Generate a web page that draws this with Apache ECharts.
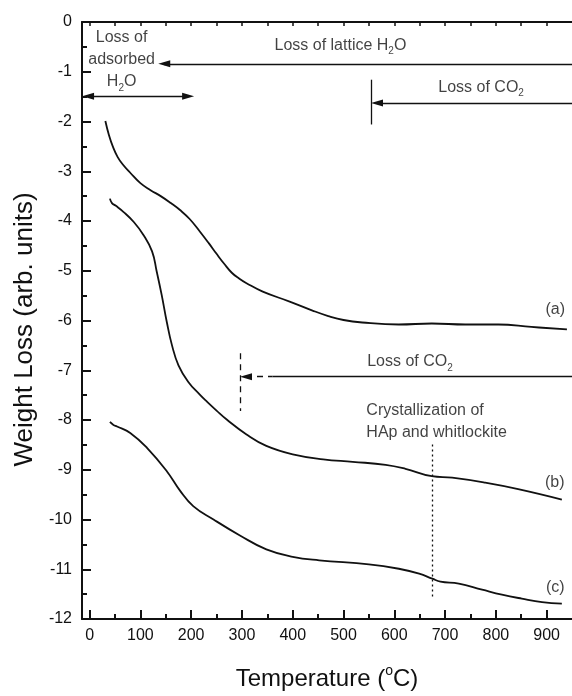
<!DOCTYPE html>
<html>
<head>
<meta charset="utf-8">
<script src="https://cdn.jsdelivr.net/npm/echarts@6/dist/echarts.min.js"></script>
<style>html,body{margin:0;padding:0;background:#fff}#c{width:572px;height:696px}</style>
</head>
<body>
<div id="c"></div>
<script>
// ---- data (temperature in °C, weight loss in arb. units) ----
const curveA = [[31,-1.99],[38,-2.27],[46,-2.51],[55,-2.71],[65,-2.86],[80,-3.03],[100,-3.24],[120,-3.38],[140,-3.50],[160,-3.64],[178,-3.78],[197,-3.96],[217,-4.21],[235,-4.45],[250,-4.66],[265,-4.86],[280,-5.04],[295,-5.16],[309,-5.25],[341,-5.42],[394,-5.62],[439,-5.80],[470,-5.91],[500,-5.99],[537,-6.04],[609,-6.08],[674,-6.06],[740,-6.08],[805,-6.08],[870,-6.13],[940,-6.18]];
const curveB = [[40,-3.55],[44,-3.64],[51,-3.69],[67,-3.82],[87,-4.02],[106,-4.28],[123,-4.61],[132,-5.01],[142,-5.49],[152,-6.03],[162,-6.49],[175,-6.90],[194,-7.23],[217,-7.49],[232,-7.64],[250,-7.81],[270,-7.99],[309,-8.29],[348,-8.52],[400,-8.69],[460,-8.79],[518,-8.84],[583,-8.90],[622,-8.98],[674,-9.13],[714,-9.16],[779,-9.26],[844,-9.39],[930,-9.60]];
const curveC = [[40,-8.04],[47,-8.10],[54,-8.13],[80,-8.26],[113,-8.56],[152,-9.03],[178,-9.42],[204,-9.73],[244,-10.0],[296,-10.32],[348,-10.60],[400,-10.75],[452,-10.82],[550,-10.90],[609,-10.99],[649,-11.09],[675,-11.19],[691,-11.25],[727,-11.29],[773,-11.41],[812,-11.51],[851,-11.59],[891,-11.66],[930,-11.69]];
const xTickValues = [0,100,200,300,400,500,600,700,800,900];
const xMinorValues = [50,150,250,350,450,550,650,750,850];
const xTopValues = [0,50,100,150,200,250,300,350,400,450,500,550,600,650,700,750,800,850,900];
const xRange = [-15, 950];
const yRange = [-12, 0];
// annotation texts: [x, y, text]
const centerTexts = [
  [63, -0.76, '{n|Loss of}\n{n|adsorbed}\n{n|H}{s|2}{n|O}'],
  [494, -0.47, '{n|Loss of lattice H}{s|2}{n|O}'],
  [771, -1.32, '{n|Loss of CO}{s|2}'],
  [631, -6.83, '{n|Loss of CO}{s|2}'],
  [917, -5.79, '{n|(a)}'],
  [916, -9.26, '{n|(b)}'],
  [917, -11.36, '{n|(c)}']
];
const leftTexts = [
  [544, -8.04, '{n|Crystallization of}\n{n|HAp and whitlockite}']
];
// annotation lines: [x1, y1, x2, y2] (arrow ends given at the arrowhead centre)
const doubleArrow = [-3, -1.49, 194, -1.49];
const latticeArrow = [147, -0.84, 950, -0.84];
const co2TopBar = [554, -1.16, 554, -2.06];
const co2TopArrow = [566, -1.63, 950, -1.63];
const co2MidBar = [296, -6.66, 296, -7.82];
const co2MidDashArrow = [308, -7.13, 360, -7.13];
const co2MidSolid = [360, -7.13, 950, -7.13];
const crystLine = [674, -8.49, 674, -11.59];

const FONT = 'Liberation Sans, Arial, Helvetica, sans-serif';
const INK = '#111';
const rich = {
  n: {fontSize: 16, lineHeight: 22, color: INK, fontFamily: FONT},
  s: {fontSize: 10, lineHeight: 12, color: INK, fontFamily: FONT, verticalAlign: 'bottom'}
};
const arrowSym = 'triangle';
const arrowSize = [7, 12];
function seg(a, startSym, endSym, style) {
  return [
    {coord: [a[0], a[1]], symbol: startSym || 'none', symbolSize: arrowSize, lineStyle: style},
    {coord: [a[2], a[3]], symbol: endSym || 'none', symbolSize: arrowSize}
  ];
}
const solid = {color: INK, width: 1.3, type: 'solid'};
const dashed = {color: INK, width: 1.3, type: [6, 5]};
const dotted = {color: INK, width: 1.3, type: [2, 3]};

const chart = echarts.init(document.getElementById('c'), null, {renderer: 'canvas'});
const axisCommon = {type: 'value', min: xRange[0], max: xRange[1], splitLine: {show: false}};
const curveStyle = {showSymbol: false, smooth: 0.45, lineStyle: {color: INK, width: 1.8}, silent: true};
chart.setOption({
  animation: false,
  backgroundColor: '#fff',
  grid: {left: 82, top: 22, bottom: 74, right: -1.5, containLabel: false},
  xAxis: [
    Object.assign({}, axisCommon, {
      position: 'bottom',
      axisLine: {show: true, onZero: false, lineStyle: {color: INK, width: 2}},
      axisTick: {show: true, inside: true, length: 9, customValues: xTickValues, lineStyle: {color: INK, width: 2}},
      axisLabel: {show: true, customValues: xTickValues, fontSize: 16, color: INK, fontFamily: FONT, margin: 9},
      name: '{n|Temperature (}{sup|o}{n|C)}',
      nameLocation: 'middle',
      nameGap: 45,
      nameTextStyle: {rich: {
        n: {fontSize: 24, lineHeight: 30, color: INK, fontFamily: FONT},
        sup: {fontSize: 14, lineHeight: 14, color: INK, fontFamily: FONT, verticalAlign: 'top'}
      }}
    }),
    Object.assign({}, axisCommon, {
      position: 'bottom',
      axisLine: {show: false, onZero: false},
      axisTick: {show: true, inside: true, length: 5, customValues: xMinorValues, lineStyle: {color: INK, width: 2}},
      axisLabel: {show: false}
    }),
    Object.assign({}, axisCommon, {
      position: 'top',
      axisLine: {show: true, onZero: false, lineStyle: {color: INK, width: 2}},
      axisTick: {show: true, inside: true, length: 4, customValues: xTopValues, lineStyle: {color: INK, width: 1.5}},
      axisLabel: {show: false}
    })
  ],
  yAxis: {
    type: 'value', min: yRange[0], max: yRange[1], interval: 1,
    axisLine: {show: true, onZero: false, lineStyle: {color: INK, width: 2}},
    axisTick: {show: true, inside: true, length: 9, lineStyle: {color: INK, width: 2}},
    minorTick: {show: true, splitNumber: 2, length: 5, lineStyle: {color: INK, width: 2}},
    axisLabel: {fontSize: 16, color: INK, fontFamily: FONT, margin: 10},
    splitLine: {show: false},
    minorSplitLine: {show: false},
    name: 'Weight Loss (arb. units)',
    nameLocation: 'middle',
    nameGap: 43,
    nameTextStyle: {fontSize: 26, color: INK, fontFamily: FONT, padding: [0, 18, 0, 0]}
  },
  series: [
    Object.assign({type: 'line', data: curveA}, curveStyle),
    Object.assign({type: 'line', data: curveB}, curveStyle),
    Object.assign({type: 'line', data: curveC}, curveStyle),
    {
      type: 'scatter', symbolSize: 1, itemStyle: {color: 'rgba(0,0,0,0)'}, silent: true,
      data: centerTexts.map(t => ({value: [t[0], t[1]], label: {formatter: t[2]}})),
      label: {show: true, position: 'inside', align: 'center', verticalAlign: 'middle', textBorderWidth: 0, rich: rich},
      markLine: {
        silent: true, symbol: ['none', 'none'], label: {show: false}, animation: false,
        emphasis: {disabled: true},
        lineStyle: solid,
        data: [
          seg(doubleArrow, arrowSym, arrowSym, solid),
          seg(latticeArrow, arrowSym, 'none', solid),
          seg(co2TopBar, 'none', 'none', solid),
          seg(co2TopArrow, arrowSym, 'none', solid),
          seg(co2MidBar, 'none', 'none', dashed),
          seg(co2MidDashArrow, arrowSym, 'none', dashed),
          seg(co2MidSolid, 'none', 'none', solid),
          seg(crystLine, 'none', 'none', dotted)
        ]
      }
    },
    {
      type: 'scatter', symbolSize: 1, itemStyle: {color: 'rgba(0,0,0,0)'}, silent: true,
      data: leftTexts.map(t => ({value: [t[0], t[1]], label: {formatter: t[2]}})),
      label: {show: true, position: 'right', distance: 0, align: 'left', verticalAlign: 'middle', textBorderWidth: 0, rich: rich}
    }
  ]
});
</script>
</body>
</html>
